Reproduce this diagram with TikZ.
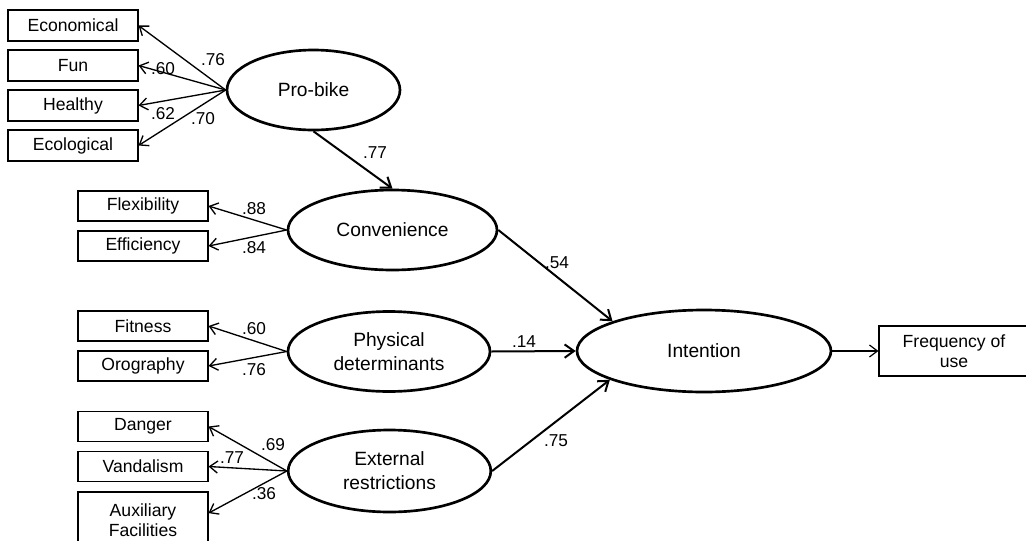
\documentclass[tikz,border=0pt]{standalone}
\usepackage{fontspec}
\setmainfont{Liberation Sans}
\usetikzlibrary{shapes.geometric,arrows.meta}

\begin{document}
\begin{tikzpicture}[x=0.75pt, y=-0.75pt,
	obs/.style={draw, line width=0.8pt, rectangle, minimum width=97.5pt, minimum height=22.5pt, inner sep=0pt, align=center, font=\fontsize{13.2}{15.2}\selectfont},
	lat/.style={draw, line width=2pt, ellipse, inner sep=0pt, align=center, minimum height=60pt, font=\fontsize{14.4}{18}\selectfont},
	load/.style={line width=1pt, -{Straight Barb[length=6pt,width=9pt]}},
	effect/.style={line width=1.5pt, -{Straight Barb[length=7pt,width=10pt]}},
	coef/.style={inner sep=0pt, font=\fontsize{12.9}{14}\selectfont}]
	\useasboundingbox (0,0) rectangle (1026,540);
	
	% Latent variables
	\node[lat, minimum width=129.75pt] (pro) at (313.5,90) {Pro-bike};
	\node[lat, minimum width=156.75pt] (conv) at (392.5,230) {Convenience};
	\node[lat, minimum width=151.5pt] (phys) at (389,351.5) {Physical\\determinants};
	\node[lat, minimum width=152pt, minimum height=61.5pt] (ext) at (389.5,471) {External\\restrictions};
	\node[lat, minimum width=190.5pt, minimum height=61.5pt] (int) at (704,351) {Intention};
	
	% Indicators
	\node[obs, minimum height=23.25pt] (econ) at (73,25.5) {Economical};
	\node[obs, minimum height=23.25pt] (fun) at (73,65.5) {Fun};
	\node[obs, minimum height=23.25pt] (heal) at (73,105.5) {Healthy};
	\node[obs, minimum height=23.25pt] (ecol) at (73,145.5) {Ecological};
	\node[obs] (flex) at (143,206) {Flexibility};
	\node[obs] (effi) at (143,246) {Efficiency};
	\node[obs] (fit) at (143,326) {Fitness};
	\node[obs] (oro) at (143,366) {Orography};
	\node[obs] (dang) at (143,426.5) {Danger};
	\node[obs] (vand) at (143,466.5) {Vandalism};
	\node[obs, minimum height=42pt] (aux) at (143,520) {Auxiliary\\Facilities};
	\node[obs, minimum width=112.5pt, minimum height=37.5pt] (freq) at (954,351) {Frequency of\\use};
	
	% Loadings
	\foreach \i in {econ,fun,heal,ecol} \draw[load] (pro.west) -- (\i.east);
	\foreach \i in {flex,effi} \draw[load] (conv.west) -- (\i.east);
	\foreach \i in {fit,oro} \draw[load] (phys.west) -- (\i.east);
	\draw[load] (ext.west) -- (dang.east);
	\draw[load] (ext.west) -- (vand.east);
	\draw[load] (ext.west) -- (aux.6);
	\draw[load, line width=0.9pt] (int.east) -- (freq.west);
	
	% Structural paths
	\draw[effect] (pro.south) -- (conv.north);
	\draw[effect] (conv.east) -- (int.162);
	\draw[effect] (phys.east) -- (int.west);
	\draw[effect] (ext.east) -- (int.197);
	
	% Coefficients
	\node[coef] (c1) at (213,60) {.76};
	\node[coef] (c2) at (163,68.5) {.60};
	\node[coef] (c3) at (163,114) {.62};
	\node[coef] (c4) at (203,119) {.70};
	\node[coef] (c5) at (375,153) {.77};
	\node[coef] (c6) at (254,209) {.88};
	\node[coef] (c7) at (254,248) {.84};
	\node[coef] (c8) at (254,329) {.60};
	\node[coef] (c9) at (254,370) {.76};
	\node[coef] (c10) at (273,445) {.69};
	\node[coef] (c11) at (232,458) {.77};
	\node[coef] (c12) at (264,494) {.36};
	\node[coef] (c13) at (557,263) {.54};
	\node[coef] (c14) at (524,342) {.14};
	\node[coef] (c15) at (556,441) {.75};
\end{tikzpicture}
\end{document}
